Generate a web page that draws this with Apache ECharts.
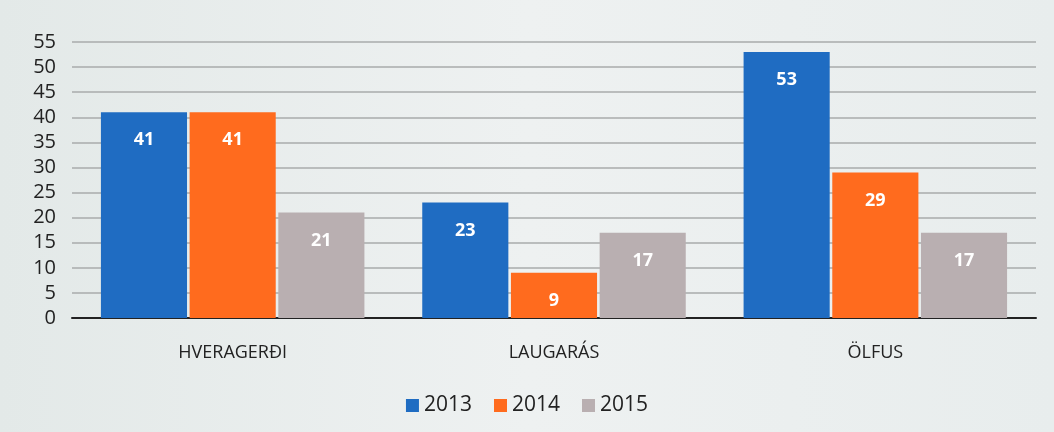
<!DOCTYPE html>
<html>
<head>
<meta charset="utf-8">
<script src="https://cdn.jsdelivr.net/npm/echarts@6/dist/echarts.min.js"></script>
<style>
    html, body { margin: 0; padding: 0; background: #e8eded; }
    #chart { width: 1054px; height: 432px; }
</style>
</head>
<body>
<div id="chart"></div>
<script>
const places = ["HVERAGERÐI", "LAUGARÁS", "ÖLFUS"];
const years = ["2013", "2014", "2015"];
const values2013 = [41, 23, 53];
const values2014 = [41, 9, 29];
const values2015 = [21, 17, 17];
const yearColors = ["#1f6cc2", "#ff6b1e", "#b9afb1"];

const chart = echarts.init(document.getElementById("chart"));

function makeSeries(name, data, color) {
    return {
        name: name,
        type: "bar",
        data: data,
        barGap: "3%",
        barCategoryGap: "18%",
        itemStyle: { color: color },
        label: {
            show: true,
            position: "insideTop",
            distance: 19,
            color: "#ffffff",
            fontWeight: "bold",
            fontSize: 18,
            fontFamily: "Open Sans"
        }
    };
}

chart.setOption({
    backgroundColor: {
        type: "linear", x: 0, y: 0, x2: 1, y2: 0,
        colorStops: [
            { offset: 0, color: "#e3e9e8" },
            { offset: 0.5, color: "#eef1f1" },
            { offset: 1, color: "#e8eded" }
        ]
    },
    textStyle: { fontFamily: "Open Sans" },
    grid: { left: 72, right: 18, top: 42, bottom: 114 },
    legend: {
        bottom: 11,
        itemWidth: 13,
        itemHeight: 13,
        itemGap: 22,
        icon: "rect",
        textStyle: { fontSize: 21, color: "#222" },
        data: years
    },
    xAxis: {
        type: "category",
        data: places,
        axisLine: { lineStyle: { color: "#222", width: 2 } },
        axisTick: { show: false },
        axisLabel: { fontSize: 18, color: "#222", margin: 26 }
    },
    yAxis: {
        type: "value",
        min: 0,
        max: 55,
        interval: 5,
        axisLine: { show: false },
        axisTick: { show: false },
        axisLabel: { fontSize: 20, color: "#222", margin: 16 },
        splitLine: { lineStyle: { color: "#a9abab", width: 1.5 } }
    },
    series: [
        makeSeries(years[0], values2013, yearColors[0]),
        makeSeries(years[1], values2014, yearColors[1]),
        makeSeries(years[2], values2015, yearColors[2])
    ]
});
</script>
</body>
</html>
